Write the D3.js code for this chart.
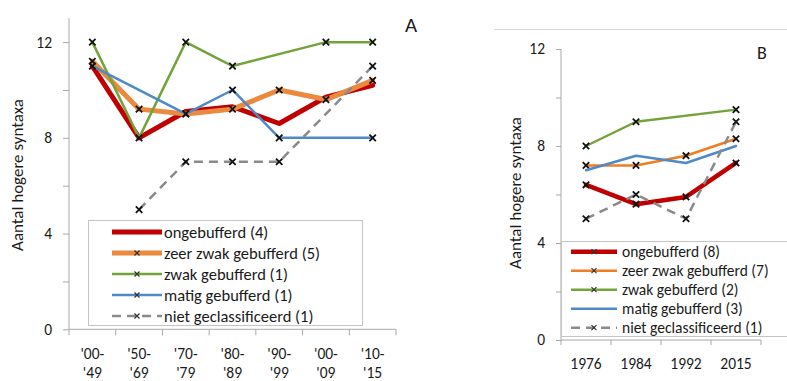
<!DOCTYPE html>
<html>
<head>
<meta charset="utf-8">
<script src="https://cdn.jsdelivr.net/npm/d3@7"></script>
<style>
  html, body { margin: 0; padding: 0; background: #fff; }
  svg { display: block; }
  text { font-family: Carlito, Calibri, Lato, "Liberation Sans", sans-serif; fill: #1a1a1a; }
</style>
</head>
<body>
<svg id="chart" width="787" height="381"></svg>
<script>
// Panel A: periods of first record
const periodsA = ["'00-\n'49", "'50-\n'69", "'70-\n'79", "'80-\n'89", "'90-\n'99", "'00-\n'09", "'10-\n'15"];
const ongebufferdA = [11.0, 8.0, 9.1, 9.3, 8.6, 9.7, 10.2];
const zeerZwakA    = [11.2, 9.2, 9.0, 9.2, 10.0, 9.6, 10.4];
const zwakA        = [12, 8, 12, 11, null, 12, 12];
const matigA       = [11, null, 9, 10, 8, null, 8];
const nietA        = [null, 5, 7, 7, 7, null, 11];
const legendA = ["ongebufferd (4)", "zeer zwak gebufferd (5)", "zwak gebufferd (1)", "matig gebufferd (1)", "niet geclassificeerd (1)"];

// Panel B: survey years
const yearsB = ["1976", "1984", "1992", "2015"];
const ongebufferdB = [6.4, 5.6, 5.9, 7.3];
const zeerZwakB    = [7.2, 7.2, 7.6, 8.3];
const zwakB        = [8.0, 9.0, null, 9.5];
const matigB       = [7.0, 7.6, 7.3, 8.0];
const nietB        = [5, 6, 5, 9];
const legendB = ["ongebufferd (8)", "zeer zwak gebufferd (7)", "zwak gebufferd (2)", "matig gebufferd (3)", "niet geclassificeerd (1)"];

const yTicks = [0, 4, 8, 12];
const yMinorTicks = [2, 6, 10];
const yTitle = "Aantal hogere syntaxa";

const COLORS = { red: "#c00000", orange: "#ea8a3f", green: "#74a33c", blue: "#4f89c8", gray: "#8a8a8a" };
const AXIS = "#a9a9a9";

const svg = d3.select("#chart");
svg.append("rect").attr("width", 787).attr("height", 381).attr("fill", "#fff");

function xMark(g, cx, cy, h) {
  g.append("path")
    .attr("d", `M${cx - h},${cy - h}L${cx + h},${cy + h}M${cx - h},${cy + h}L${cx + h},${cy - h}`)
    .attr("stroke", "#111").attr("stroke-width", 1.8).attr("fill", "none");
}

function drawPanel(cfg) {
  const g = svg.append("g");
  const x = d3.scaleBand().domain(cfg.cats.map((c, i) => i)).range(cfg.xRange).paddingInner(0).paddingOuter(0);
  const y = d3.scaleLinear().domain(cfg.yDomain).range(cfg.yRange);
  const cx = i => x(i) + x.bandwidth() / 2;

  // y axis: labelled major ticks plus unlabelled minor ticks
  const yAxis = d3.axisLeft(y).tickValues(yTicks).tickSize(cfg.tick).tickPadding(cfg.tickPadY).tickFormat(d3.format("d"));
  const ya = g.append("g").attr("transform", `translate(${cfg.xRange[0]},0)`).call(yAxis);
  ya.select(".domain").attr("d", `M0,${y(cfg.yDomain[1])}V${y(0)}`).attr("stroke", AXIS);
  ya.selectAll(".tick line").attr("stroke", AXIS);
  ya.selectAll(".tick text").attr("font-size", 15.5).attr("fill", "#1a1a1a");
  const minor = d3.axisLeft(y).tickValues(yMinorTicks).tickSize(cfg.tick).tickFormat("");
  const ym = g.append("g").attr("transform", `translate(${cfg.xRange[0]},0)`).call(minor);
  ym.select(".domain").remove();
  ym.selectAll(".tick line").attr("stroke", AXIS);

  // x axis with ticks at category boundaries
  const x0 = y(0);
  g.append("line").attr("x1", cfg.xRange[0]).attr("x2", cfg.xRange[1]).attr("y1", x0).attr("y2", x0).attr("stroke", AXIS);
  const bounds = cfg.cats.map((c, i) => x(i)).concat([cfg.xRange[1]]);
  g.selectAll(null).data(bounds).join("line")
    .attr("x1", d => d).attr("x2", d => d).attr("y1", x0).attr("y2", x0 + cfg.tick)
    .attr("stroke", AXIS);
  cfg.cats.forEach((c, i) => {
    const lines = c.split("\n");
    const t = g.append("text").attr("text-anchor", "middle").attr("font-size", 15.5);
    lines.forEach((ln, k) => {
      t.append("tspan").attr("x", cx(i)).attr("y", cfg.xLabelY + k * 19).text(ln);
    });
  });

  // y title
  g.append("text")
    .attr("transform", `translate(${cfg.titlePos[0]},${cfg.titlePos[1]}) rotate(-90)`)
    .attr("text-anchor", "middle").attr("dominant-baseline", "central")
    .attr("font-size", 17).text(yTitle);

  // series lines (gaps bridged) and markers
  cfg.series.forEach(s => {
    const pts = s.values.map((v, i) => ({ i, v })).filter(p => p.v != null);
    const line = d3.line().x(p => cx(p.i)).y(p => y(p.v));
    g.append("path").datum(pts).attr("d", line)
      .attr("fill", "none").attr("stroke", s.color).attr("stroke-width", s.width)
      .attr("stroke-linejoin", "round").attr("stroke-linecap", s.dash ? "butt" : "round")
      .attr("stroke-dasharray", s.dash || null);
    if (s.marker) pts.forEach(p => xMark(g, cx(p.i), y(p.v), 3.2));
  });

  // legend
  const L = cfg.legend;
  g.append("rect").attr("x", L.x).attr("y", L.y).attr("width", L.w).attr("height", L.h)
    .attr("fill", "#fff").attr("stroke", "#c4c4c4");
  cfg.series.forEach((s, k) => {
    const ry = L.rowY + k * L.rowH;
    g.append("line").attr("x1", L.lx1).attr("x2", L.lx2).attr("y1", ry).attr("y2", ry)
      .attr("stroke", s.color).attr("stroke-width", s.width)
      .attr("stroke-dasharray", s.dash || null);
    if (s.marker) {
      const m = (L.lx1 + L.lx2) / 2;
      g.append("path").attr("d", `M${m - 2.5},${ry - 2.5}L${m + 2.5},${ry + 2.5}M${m - 2.5},${ry + 2.5}L${m + 2.5},${ry - 2.5}`)
        .attr("stroke", "#333").attr("stroke-width", 1.2);
    }
    g.append("text").attr("x", L.tx).attr("y", ry).attr("dominant-baseline", "central")
      .attr("font-size", L.font).text(s.label);
  });

  g.append("text").attr("x", cfg.letter.x).attr("y", cfg.letter.y).attr("font-size", cfg.letter.size).text(cfg.letter.t);
}

drawPanel({
  cats: periodsA,
  xRange: [69, 396], yDomain: [0, 13], yRange: [329.3, 18.2],
  tick: 6, tickPadY: 11, xLabelY: 359,
  titlePos: [17, 175],
  series: [
    { values: ongebufferdA, color: COLORS.red,    width: 5,   marker: false, label: legendA[0] },
    { values: zeerZwakA,    color: COLORS.orange, width: 5,   marker: true,  label: legendA[1] },
    { values: zwakA,        color: COLORS.green,  width: 2.5, marker: true,  label: legendA[2] },
    { values: matigA,       color: COLORS.blue,   width: 2.5, marker: true,  label: legendA[3] },
    { values: nietA,        color: COLORS.gray,   width: 2.5, marker: true,  label: legendA[4], dash: "9,6" }
  ],
  legend: { x: 88.5, y: 220.5, w: 274, h: 105, rowY: 232, rowH: 21, lx1: 112, lx2: 162, tx: 164, font: 16.5 },
  letter: { t: "A", x: 405, y: 32, size: 21 }
});

// thin frame line above panel B
svg.append("line").attr("x1", 494).attr("x2", 787).attr("y1", 29.5).attr("y2", 29.5).attr("stroke", "#d9d9d9");

drawPanel({
  cats: yearsB,
  xRange: [561, 761], yDomain: [0, 12], yRange: [340, 49],
  tick: 5, tickPadY: 11, xLabelY: 368.5,
  titlePos: [515, 193],
  series: [
    { values: ongebufferdB, color: COLORS.red,    width: 4.5, marker: true,  label: legendB[0] },
    { values: zeerZwakB,    color: "#ef7d22",     width: 2.5, marker: true,  label: legendB[1] },
    { values: zwakB,        color: COLORS.green,  width: 2.5, marker: true,  label: legendB[2] },
    { values: matigB,       color: COLORS.blue,   width: 2.5, marker: false, label: legendB[3] },
    { values: nietB,        color: COLORS.gray,   width: 2.5, marker: true,  label: legendB[4], dash: "9,6" }
  ],
  legend: { x: 561.5, y: 241.5, w: 240, h: 95, rowY: 251.7, rowH: 19, lx1: 571, lx2: 617, tx: 622, font: 15.5 },
  letter: { t: "B", x: 757, y: 59, size: 18 }
});
</script>
</body>
</html>
